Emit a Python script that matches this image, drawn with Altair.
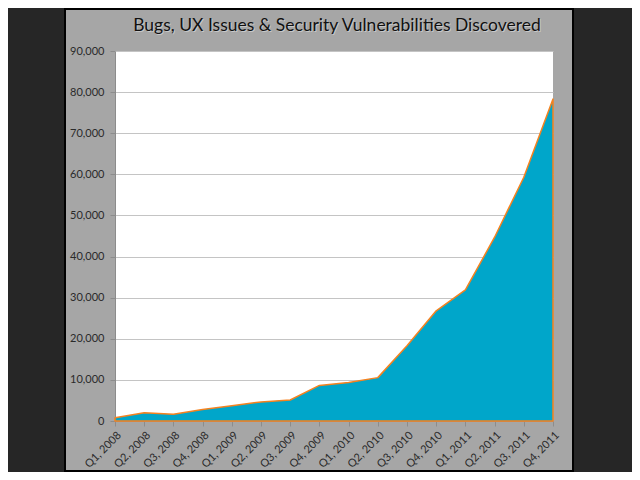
import altair as alt
import pandas as pd

quarters = ["Q1, 2008", "Q2, 2008", "Q3, 2008", "Q4, 2008",
            "Q1, 2009", "Q2, 2009", "Q3, 2009", "Q4, 2009",
            "Q1, 2010", "Q2, 2010", "Q3, 2010", "Q4, 2010",
            "Q1, 2011", "Q2, 2011", "Q3, 2011", "Q4, 2011"]
issues = [800, 2000, 1650, 2800,
          3700, 4650, 5100, 8650,
          9350, 10550, 18300, 26800,
          31900, 44700, 59300, 78300]
y_ticks = [0, 10000, 20000, 30000, 40000, 50000, 60000, 70000, 80000, 90000]
title_text = ["Bugs, UX Issues & Security Vulnerabilities Discovered"]

df = pd.DataFrame({"quarter": quarters, "issues": issues})
one = pd.DataFrame({"k": [0]})
tdf = pd.DataFrame({"t": title_text})

DARK = "#262626"
PANEL = "#a6a6a6"

area = alt.Chart(df).mark_area(
    color="#00a6ca", stroke="#f5821f", strokeWidth=1.5, strokeJoin="round"
).encode(
    x=alt.X("quarter:N", sort=quarters,
            scale=alt.Scale(type="point", padding=0),
            axis=alt.Axis(title=None, labelAngle=-45, labelFont="Lato",
                          labelFontSize=11, labelColor="#2a2a2a",
                          tickColor="#8c8c8c", domainColor="#8c8c8c",
                          tickSize=5, labelPadding=3, grid=False)),
    y=alt.Y("issues:Q", scale=alt.Scale(domain=[0, 90000], nice=False),
            axis=alt.Axis(title=None, values=y_ticks, format=",d",
                          labelFont="Lato", labelFontSize=11,
                          labelColor="#2a2a2a", tickColor="#8c8c8c",
                          domainColor="#8c8c8c", gridColor="#c4c4c4",
                          gridWidth=1, tickSize=5, labelPadding=6))
)

left_band = alt.Chart(one).mark_rect(color=DARK).encode(
    x=alt.value(-110), x2=alt.value(-50), y=alt.value(-50), y2=alt.value(430))
right_band = alt.Chart(one).mark_rect(color=DARK).encode(
    x=alt.value(458), x2=alt.value(530), y=alt.value(-50), y2=alt.value(430))
border = alt.Chart(one).mark_rect(
    fillOpacity=0, stroke="#000000", strokeWidth=2).encode(
    x=alt.value(-50), x2=alt.value(458), y=alt.value(-42), y2=alt.value(420))

title_shadow = alt.Chart(tdf).mark_text(
    font="Lato", fontSize=17.5, color="#c8c8c8", align="center",
    baseline="middle").encode(
    text="t:N", x=alt.value(223), y=alt.value(-24))
title = alt.Chart(tdf).mark_text(
    font="Lato", fontSize=17.5, color="#111111", align="center",
    baseline="middle").encode(
    text="t:N", x=alt.value(222), y=alt.value(-25))

chart = alt.layer(area, left_band, right_band, border, title_shadow, title).properties(
    width=438, height=370,
    autosize=alt.AutoSizeParams(type="none"),
    padding={"left": 107, "top": 43, "right": 79, "bottom": 51},
    background=PANEL
).configure_view(fill="white", strokeWidth=0)

chart.save("out.html", embed_options={"renderer": "svg", "actions": False})
